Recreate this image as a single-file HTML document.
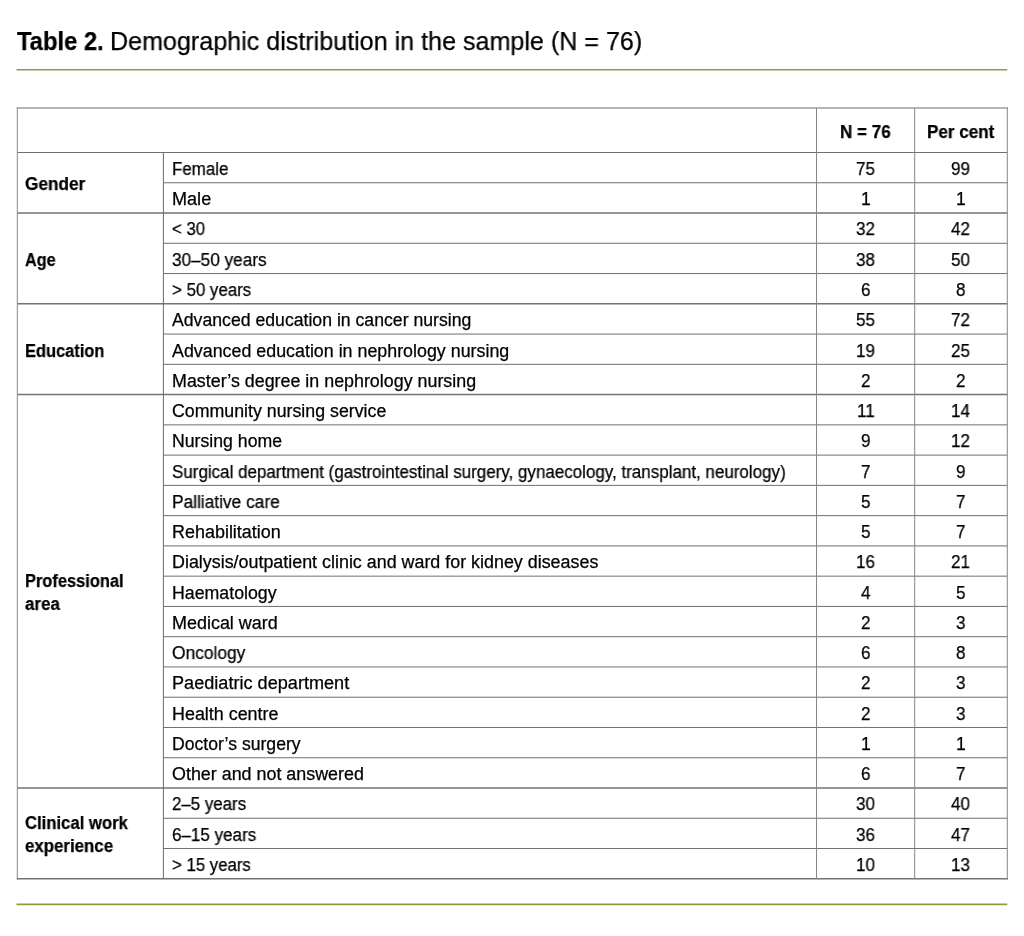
<!DOCTYPE html>
<html><head><meta charset="utf-8"><style>
html,body{margin:0;padding:0;background:#fff;}
body{width:1024px;height:936px;position:relative;overflow:hidden;font-family:"Liberation Sans",sans-serif;color:#000;}
.t{position:absolute;white-space:nowrap;-webkit-text-stroke:0.25px #000;font-size:17.60px;line-height:20px;height:20px;}
.b{font-weight:bold;}
.s{display:inline-block;transform-origin:0 0;will-change:transform;}
svg{position:absolute;left:0;top:0;}
</style></head><body>

<svg width="1024" height="936" viewBox="0 0 1024 936"><line x1="16.50" y1="69.70" x2="1007.30" y2="69.70" stroke="#8a9e3e" stroke-width="1.65"/><line x1="16.50" y1="904.35" x2="1007.30" y2="904.35" stroke="#8a9e3e" stroke-width="1.70"/><line x1="16.80" y1="108.00" x2="1007.80" y2="108.00" stroke="#6a6a6a" stroke-width="1.00"/><line x1="17.30" y1="152.50" x2="1007.30" y2="152.50" stroke="#707070" stroke-width="1.00"/><line x1="163.40" y1="182.76" x2="1007.30" y2="182.76" stroke="#707070" stroke-width="1.00"/><line x1="17.30" y1="213.02" x2="1007.30" y2="213.02" stroke="#737373" stroke-width="1.50"/><line x1="163.40" y1="243.29" x2="1007.30" y2="243.29" stroke="#707070" stroke-width="1.00"/><line x1="163.40" y1="273.55" x2="1007.30" y2="273.55" stroke="#707070" stroke-width="1.00"/><line x1="17.30" y1="303.81" x2="1007.30" y2="303.81" stroke="#737373" stroke-width="1.50"/><line x1="163.40" y1="334.07" x2="1007.30" y2="334.07" stroke="#707070" stroke-width="1.00"/><line x1="163.40" y1="364.33" x2="1007.30" y2="364.33" stroke="#707070" stroke-width="1.00"/><line x1="17.30" y1="394.60" x2="1007.30" y2="394.60" stroke="#737373" stroke-width="1.50"/><line x1="163.40" y1="424.86" x2="1007.30" y2="424.86" stroke="#707070" stroke-width="1.00"/><line x1="163.40" y1="455.12" x2="1007.30" y2="455.12" stroke="#707070" stroke-width="1.00"/><line x1="163.40" y1="485.38" x2="1007.30" y2="485.38" stroke="#707070" stroke-width="1.00"/><line x1="163.40" y1="515.64" x2="1007.30" y2="515.64" stroke="#707070" stroke-width="1.00"/><line x1="163.40" y1="545.91" x2="1007.30" y2="545.91" stroke="#707070" stroke-width="1.00"/><line x1="163.40" y1="576.17" x2="1007.30" y2="576.17" stroke="#707070" stroke-width="1.00"/><line x1="163.40" y1="606.43" x2="1007.30" y2="606.43" stroke="#707070" stroke-width="1.00"/><line x1="163.40" y1="636.69" x2="1007.30" y2="636.69" stroke="#707070" stroke-width="1.00"/><line x1="163.40" y1="666.95" x2="1007.30" y2="666.95" stroke="#707070" stroke-width="1.00"/><line x1="163.40" y1="697.22" x2="1007.30" y2="697.22" stroke="#707070" stroke-width="1.00"/><line x1="163.40" y1="727.48" x2="1007.30" y2="727.48" stroke="#707070" stroke-width="1.00"/><line x1="163.40" y1="757.74" x2="1007.30" y2="757.74" stroke="#707070" stroke-width="1.00"/><line x1="17.30" y1="788.00" x2="1007.30" y2="788.00" stroke="#737373" stroke-width="1.50"/><line x1="163.40" y1="818.26" x2="1007.30" y2="818.26" stroke="#707070" stroke-width="1.00"/><line x1="163.40" y1="848.53" x2="1007.30" y2="848.53" stroke="#707070" stroke-width="1.00"/><line x1="16.80" y1="878.79" x2="1007.80" y2="878.79" stroke="#737373" stroke-width="1.50"/><line x1="17.30" y1="107.50" x2="17.30" y2="879.54" stroke="#878787" stroke-width="1.00"/><line x1="1007.30" y1="107.50" x2="1007.30" y2="879.54" stroke="#878787" stroke-width="1.00"/><line x1="163.40" y1="152.50" x2="163.40" y2="878.79" stroke="#6c6c6c" stroke-width="1.00"/><line x1="816.50" y1="108.00" x2="816.50" y2="878.79" stroke="#878787" stroke-width="1.00"/><line x1="914.70" y1="108.00" x2="914.70" y2="878.79" stroke="#878787" stroke-width="1.00"/></svg>
<div class="t b" style="left:17.20px;top:30.50px;font-size:25.40px"><span class="s" style="transform:scaleX(0.9364)">Table 2.</span></div>
<div class="t" style="left:110.20px;top:30.50px;font-size:25.40px"><span class="s" style="transform:scaleX(0.9885)">Demographic distribution in the sample (N = 76)</span></div>
<div class="t b" style="left:839.91px;top:121.90px;font-size:17.60px"><span class="s" style="transform:scaleX(0.9700)">N = 76</span></div>
<div class="t b" style="left:927.02px;top:121.90px;font-size:17.60px"><span class="s" style="transform:scaleX(0.9700)">Per cent</span></div>
<div class="t" style="left:172.00px;top:158.95px;font-size:17.60px"><span class="s" style="transform:scaleX(0.9608)">Female</span></div>
<div class="t" style="left:856.09px;top:158.95px;font-size:17.60px"><span class="s" style="transform:scaleX(0.9700)">75</span></div>
<div class="t" style="left:951.49px;top:158.95px;font-size:17.60px"><span class="s" style="transform:scaleX(0.9700)">99</span></div>
<div class="t" style="left:172.00px;top:189.21px;font-size:17.60px"><span class="s" style="transform:scaleX(1.0275)">Male</span></div>
<div class="t" style="left:860.85px;top:189.21px;font-size:17.60px"><span class="s" style="transform:scaleX(0.9700)">1</span></div>
<div class="t" style="left:956.25px;top:189.21px;font-size:17.60px"><span class="s" style="transform:scaleX(0.9700)">1</span></div>
<div class="t" style="left:172.00px;top:219.48px;font-size:17.60px"><span class="s" style="transform:scaleX(0.9496)">&lt; 30</span></div>
<div class="t" style="left:856.09px;top:219.48px;font-size:17.60px"><span class="s" style="transform:scaleX(0.9700)">32</span></div>
<div class="t" style="left:951.49px;top:219.48px;font-size:17.60px"><span class="s" style="transform:scaleX(0.9700)">42</span></div>
<div class="t" style="left:172.00px;top:249.74px;font-size:17.60px"><span class="s" style="transform:scaleX(0.9768)">30–50 years</span></div>
<div class="t" style="left:856.09px;top:249.74px;font-size:17.60px"><span class="s" style="transform:scaleX(0.9700)">38</span></div>
<div class="t" style="left:951.49px;top:249.74px;font-size:17.60px"><span class="s" style="transform:scaleX(0.9700)">50</span></div>
<div class="t" style="left:172.00px;top:280.00px;font-size:17.60px"><span class="s" style="transform:scaleX(0.9583)">&gt; 50 years</span></div>
<div class="t" style="left:860.85px;top:280.00px;font-size:17.60px"><span class="s" style="transform:scaleX(0.9700)">6</span></div>
<div class="t" style="left:956.25px;top:280.00px;font-size:17.60px"><span class="s" style="transform:scaleX(0.9700)">8</span></div>
<div class="t" style="left:172.00px;top:310.26px;font-size:17.60px"><span class="s" style="transform:scaleX(1.0034)">Advanced education in cancer nursing</span></div>
<div class="t" style="left:856.09px;top:310.26px;font-size:17.60px"><span class="s" style="transform:scaleX(0.9700)">55</span></div>
<div class="t" style="left:951.49px;top:310.26px;font-size:17.60px"><span class="s" style="transform:scaleX(0.9700)">72</span></div>
<div class="t" style="left:172.00px;top:340.52px;font-size:17.60px"><span class="s" style="transform:scaleX(1.0141)">Advanced education in nephrology nursing</span></div>
<div class="t" style="left:856.09px;top:340.52px;font-size:17.60px"><span class="s" style="transform:scaleX(0.9700)">19</span></div>
<div class="t" style="left:951.49px;top:340.52px;font-size:17.60px"><span class="s" style="transform:scaleX(0.9700)">25</span></div>
<div class="t" style="left:172.00px;top:370.79px;font-size:17.60px"><span class="s" style="transform:scaleX(1.0150)">Master’s degree in nephrology nursing</span></div>
<div class="t" style="left:860.85px;top:370.79px;font-size:17.60px"><span class="s" style="transform:scaleX(0.9700)">2</span></div>
<div class="t" style="left:956.25px;top:370.79px;font-size:17.60px"><span class="s" style="transform:scaleX(0.9700)">2</span></div>
<div class="t" style="left:172.00px;top:401.05px;font-size:17.60px"><span class="s" style="transform:scaleX(1.0101)">Community nursing service</span></div>
<div class="t" style="left:856.75px;top:401.05px;font-size:17.60px"><span class="s" style="transform:scaleX(0.9700)">11</span></div>
<div class="t" style="left:951.49px;top:401.05px;font-size:17.60px"><span class="s" style="transform:scaleX(0.9700)">14</span></div>
<div class="t" style="left:172.00px;top:431.31px;font-size:17.60px"><span class="s" style="transform:scaleX(1.0050)">Nursing home</span></div>
<div class="t" style="left:860.85px;top:431.31px;font-size:17.60px"><span class="s" style="transform:scaleX(0.9700)">9</span></div>
<div class="t" style="left:951.49px;top:431.31px;font-size:17.60px"><span class="s" style="transform:scaleX(0.9700)">12</span></div>
<div class="t" style="left:172.00px;top:461.57px;font-size:17.60px"><span class="s" style="transform:scaleX(0.9649)">Surgical department (gastrointestinal surgery, gynaecology, transplant, neurology)</span></div>
<div class="t" style="left:860.85px;top:461.57px;font-size:17.60px"><span class="s" style="transform:scaleX(0.9700)">7</span></div>
<div class="t" style="left:956.25px;top:461.57px;font-size:17.60px"><span class="s" style="transform:scaleX(0.9700)">9</span></div>
<div class="t" style="left:172.00px;top:491.83px;font-size:17.60px"><span class="s" style="transform:scaleX(0.9840)">Palliative care</span></div>
<div class="t" style="left:860.85px;top:491.83px;font-size:17.60px"><span class="s" style="transform:scaleX(0.9700)">5</span></div>
<div class="t" style="left:956.25px;top:491.83px;font-size:17.60px"><span class="s" style="transform:scaleX(0.9700)">7</span></div>
<div class="t" style="left:172.00px;top:522.10px;font-size:17.60px"><span class="s" style="transform:scaleX(1.0202)">Rehabilitation</span></div>
<div class="t" style="left:860.85px;top:522.10px;font-size:17.60px"><span class="s" style="transform:scaleX(0.9700)">5</span></div>
<div class="t" style="left:956.25px;top:522.10px;font-size:17.60px"><span class="s" style="transform:scaleX(0.9700)">7</span></div>
<div class="t" style="left:172.00px;top:552.36px;font-size:17.60px"><span class="s" style="transform:scaleX(1.0162)">Dialysis/outpatient clinic and ward for kidney diseases</span></div>
<div class="t" style="left:856.09px;top:552.36px;font-size:17.60px"><span class="s" style="transform:scaleX(0.9700)">16</span></div>
<div class="t" style="left:951.49px;top:552.36px;font-size:17.60px"><span class="s" style="transform:scaleX(0.9700)">21</span></div>
<div class="t" style="left:172.00px;top:582.62px;font-size:17.60px"><span class="s" style="transform:scaleX(1.0087)">Haematology</span></div>
<div class="t" style="left:860.85px;top:582.62px;font-size:17.60px"><span class="s" style="transform:scaleX(0.9700)">4</span></div>
<div class="t" style="left:956.25px;top:582.62px;font-size:17.60px"><span class="s" style="transform:scaleX(0.9700)">5</span></div>
<div class="t" style="left:172.00px;top:612.88px;font-size:17.60px"><span class="s" style="transform:scaleX(1.0203)">Medical ward</span></div>
<div class="t" style="left:860.85px;top:612.88px;font-size:17.60px"><span class="s" style="transform:scaleX(0.9700)">2</span></div>
<div class="t" style="left:956.25px;top:612.88px;font-size:17.60px"><span class="s" style="transform:scaleX(0.9700)">3</span></div>
<div class="t" style="left:172.00px;top:643.14px;font-size:17.60px"><span class="s" style="transform:scaleX(0.9872)">Oncology</span></div>
<div class="t" style="left:860.85px;top:643.14px;font-size:17.60px"><span class="s" style="transform:scaleX(0.9700)">6</span></div>
<div class="t" style="left:956.25px;top:643.14px;font-size:17.60px"><span class="s" style="transform:scaleX(0.9700)">8</span></div>
<div class="t" style="left:172.00px;top:673.41px;font-size:17.60px"><span class="s" style="transform:scaleX(1.0296)">Paediatric department</span></div>
<div class="t" style="left:860.85px;top:673.41px;font-size:17.60px"><span class="s" style="transform:scaleX(0.9700)">2</span></div>
<div class="t" style="left:956.25px;top:673.41px;font-size:17.60px"><span class="s" style="transform:scaleX(0.9700)">3</span></div>
<div class="t" style="left:172.00px;top:703.67px;font-size:17.60px"><span class="s" style="transform:scaleX(1.0172)">Health centre</span></div>
<div class="t" style="left:860.85px;top:703.67px;font-size:17.60px"><span class="s" style="transform:scaleX(0.9700)">2</span></div>
<div class="t" style="left:956.25px;top:703.67px;font-size:17.60px"><span class="s" style="transform:scaleX(0.9700)">3</span></div>
<div class="t" style="left:172.00px;top:733.93px;font-size:17.60px"><span class="s" style="transform:scaleX(1.0019)">Doctor’s surgery</span></div>
<div class="t" style="left:860.85px;top:733.93px;font-size:17.60px"><span class="s" style="transform:scaleX(0.9700)">1</span></div>
<div class="t" style="left:956.25px;top:733.93px;font-size:17.60px"><span class="s" style="transform:scaleX(0.9700)">1</span></div>
<div class="t" style="left:172.00px;top:764.19px;font-size:17.60px"><span class="s" style="transform:scaleX(1.0167)">Other and not answered</span></div>
<div class="t" style="left:860.85px;top:764.19px;font-size:17.60px"><span class="s" style="transform:scaleX(0.9700)">6</span></div>
<div class="t" style="left:956.25px;top:764.19px;font-size:17.60px"><span class="s" style="transform:scaleX(0.9700)">7</span></div>
<div class="t" style="left:172.00px;top:794.45px;font-size:17.60px"><span class="s" style="transform:scaleX(0.9599)">2–5 years</span></div>
<div class="t" style="left:856.09px;top:794.45px;font-size:17.60px"><span class="s" style="transform:scaleX(0.9700)">30</span></div>
<div class="t" style="left:951.49px;top:794.45px;font-size:17.60px"><span class="s" style="transform:scaleX(0.9700)">40</span></div>
<div class="t" style="left:172.00px;top:824.72px;font-size:17.60px"><span class="s" style="transform:scaleX(0.9679)">6–15 years</span></div>
<div class="t" style="left:856.09px;top:824.72px;font-size:17.60px"><span class="s" style="transform:scaleX(0.9700)">36</span></div>
<div class="t" style="left:951.49px;top:824.72px;font-size:17.60px"><span class="s" style="transform:scaleX(0.9700)">47</span></div>
<div class="t" style="left:172.00px;top:854.98px;font-size:17.60px"><span class="s" style="transform:scaleX(0.9534)">&gt; 15 years</span></div>
<div class="t" style="left:856.09px;top:854.98px;font-size:17.60px"><span class="s" style="transform:scaleX(0.9700)">10</span></div>
<div class="t" style="left:951.49px;top:854.98px;font-size:17.60px"><span class="s" style="transform:scaleX(0.9700)">13</span></div>
<div class="t b" style="left:24.80px;top:174.06px;font-size:17.60px"><span class="s" style="transform:scaleX(0.9773)">Gender</span></div>
<div class="t b" style="left:24.80px;top:249.72px;font-size:17.60px"><span class="s" style="transform:scaleX(0.9203)">Age</span></div>
<div class="t b" style="left:24.80px;top:340.50px;font-size:17.60px"><span class="s" style="transform:scaleX(0.9336)">Education</span></div>
<div class="t b" style="left:24.80px;top:570.80px;font-size:17.60px"><span class="s" style="transform:scaleX(0.9333)">Professional</span></div>
<div class="t b" style="left:24.80px;top:593.80px;font-size:17.60px"><span class="s" style="transform:scaleX(0.9601)">area</span></div>
<div class="t b" style="left:24.80px;top:812.90px;font-size:17.60px"><span class="s" style="transform:scaleX(0.9471)">Clinical work</span></div>
<div class="t b" style="left:24.80px;top:835.90px;font-size:17.60px"><span class="s" style="transform:scaleX(0.9581)">experience</span></div>
</body></html>
